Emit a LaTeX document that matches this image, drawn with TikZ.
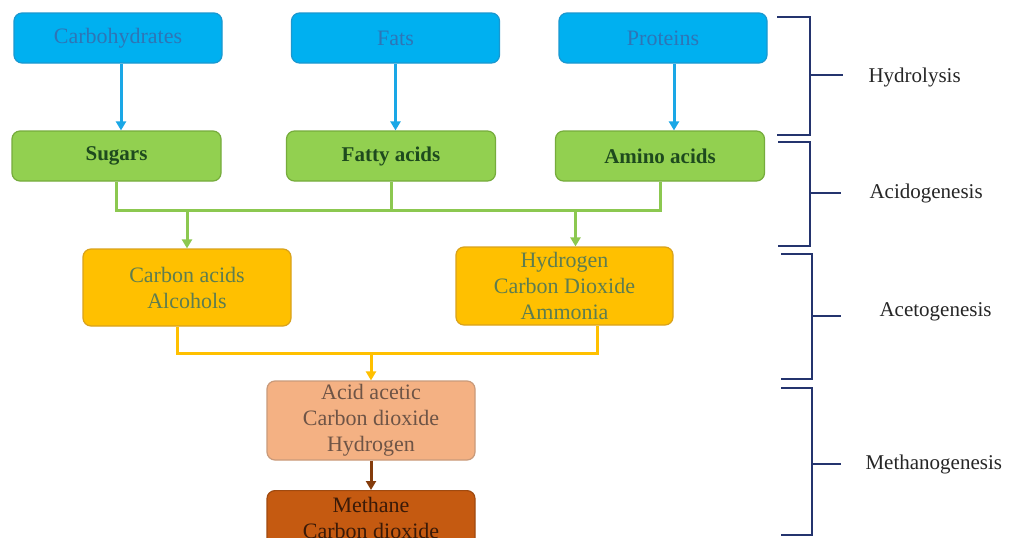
\documentclass[tikz,border=0pt]{standalone}
\usepackage{fontspec}
\setmainfont{Liberation Serif}
\usetikzlibrary{arrows.meta}
\definecolor{bfill}{HTML}{00B0F0}
\definecolor{bdraw}{HTML}{1A98D0}
\definecolor{btext}{HTML}{2E75B6}
\definecolor{barrow}{HTML}{1AA7E6}
\definecolor{gfill}{HTML}{92D050}
\definecolor{gdraw}{HTML}{76AC3C}
\definecolor{gtext}{HTML}{1E4A1E}
\definecolor{gline}{HTML}{8CC850}
\definecolor{ofill}{HTML}{FFC000}
\definecolor{odraw}{HTML}{D9A21B}
\definecolor{otext}{HTML}{5E7D50}
\definecolor{sfill}{HTML}{F4B183}
\definecolor{sdraw}{HTML}{C99A7A}
\definecolor{stext}{HTML}{6E5446}
\definecolor{brarrow}{HTML}{843C0C}
\definecolor{mfill}{HTML}{C55A11}
\definecolor{mdraw}{HTML}{A04A10}
\definecolor{mtext}{HTML}{3A1A08}
\definecolor{navy}{HTML}{24346E}
\begin{document}
\begin{tikzpicture}[x=1pt,y=-1pt,
  box/.style={rectangle,rounded corners=8pt,line width=1.2pt,align=center,
    font=\fontsize{22}{26}\selectfont,inner sep=0pt},
  bluebox/.style={box,fill=bfill,draw=bdraw,text=btext,minimum width=208pt,minimum height=50pt},
  greenbox/.style={box,fill=gfill,draw=gdraw,text=gtext,font=\fontsize{21}{26}\selectfont\bfseries,minimum width=209pt,minimum height=50pt},
  orangebox/.style={box,fill=ofill,draw=odraw,text=otext},
  salmonbox/.style={box,fill=sfill,draw=sdraw,text=stext},
  methbox/.style={box,fill=mfill,draw=mdraw,text=mtext},
  tip/.style={-{Triangle[width=10pt,length=9pt]}},
  bl/.style={draw=barrow,line width=3pt},
  gl/.style={draw=gline,line width=3pt},
  yl/.style={draw=ofill,line width=3pt},
  brl/.style={draw=brarrow,line width=3pt},
  nl/.style={draw=navy,line width=2.5pt},
  phase/.style={font=\fontsize{21}{26}\selectfont,text=black!85}]
\clip (0,0) rectangle (1018,538);
\fill[white] (0,0) rectangle (1018,538);
% top row
\node[bluebox] (carb) at (118,38) {Carbohydrates};
\node[bluebox] (fats) at (395.5,38) {Fats};
\node[bluebox] (prot) at (663,38) {Proteins};
% second row
\node[greenbox] (sug) at (116.5,156) {Sugars};
\node[greenbox] (fatty) at (391,156) {Fatty acids};
\node[greenbox] (amino) at (660,156) {Amino acids};
% third row
\node[orangebox,minimum width=208pt,minimum height=77pt] (cacid) at (187,287.5) {Carbon acids\\Alcohols};
\node[orangebox,minimum width=217pt,minimum height=78pt] (hyd) at (564.5,286) {Hydrogen\\Carbon Dioxide\\Ammonia};
% fourth row
\node[salmonbox,minimum width=208pt,minimum height=79pt] (acet) at (371,420.5) {Acid acetic\\Carbon dioxide\\Hydrogen};
\node[methbox,minimum width=208pt,minimum height=80pt,anchor=north] (meth) at (371,490) {Methane\\Carbon dioxide\\};
% blue arrows
\draw[bl,tip] ([xshift=3pt]carb.south) -- ([xshift=3pt]sug.north -| carb.south);
\draw[bl,tip] (fats.south) -- (fatty.north -| fats.south);
\draw[bl,tip] ([xshift=11pt]prot.south) -- ([xshift=11pt]amino.north -| prot.south);
% green bus
\coordinate (gy) at (0,210);
\draw[gl] (sug.south) -- (sug.south |- gy) -| (amino.south);
\draw[gl] (fatty.south) -- (fatty.south |- gy);
\draw[gl,tip] (cacid.north |- gy) -- (cacid.north);
\draw[gl,tip] ([xshift=11pt]hyd.north |- gy) -- ([xshift=11pt]hyd.north);
% yellow bus
\coordinate (yy) at (0,353);
\draw[yl] ([xshift=-10pt]cacid.south) -- ([xshift=-10pt]cacid.south |- yy) -| ([xshift=33pt]hyd.south);
\draw[yl,tip] (acet.north |- yy) -- (acet.north);
% brown arrow
\draw[brl,tip] (acet.south) -- (meth.north);
% brackets
\coordinate (h1) at (777,17); \coordinate (h2) at (777,135);
\draw[nl] (h1) -| (810,135) -- (h2);
\coordinate (ht) at (843,75);
\draw[nl] (810,75) -- (ht);
\node[phase,anchor=west] (hydl) at (865,77) {Hydrolysis};
\coordinate (a1) at (778,142); \coordinate (a2) at (778,246);
\draw[nl] (a1) -| (810,246) -- (a2);
\coordinate (at) at (841,193);
\draw[nl] (810,193) -- (at);
\node[phase,anchor=west] (acil) at (866,193) {Acidogenesis};
\coordinate (c1) at (781,254); \coordinate (c2) at (781,379);
\draw[nl] (c1) -| (812,379) -- (c2);
\coordinate (ct) at (841,316);
\draw[nl] (812,316) -- (ct);
\node[phase,anchor=west] (acel) at (876,312) {Acetogenesis};
\coordinate (m1) at (781,388); \coordinate (m2) at (781,535);
\draw[nl] (m1) -| (812,535) -- (m2);
\coordinate (mt) at (841,464);
\draw[nl] (812,464) -- (mt);
\node[phase,anchor=west] (metl) at (862,464) {Methanogenesis};
\end{tikzpicture}
\end{document}
